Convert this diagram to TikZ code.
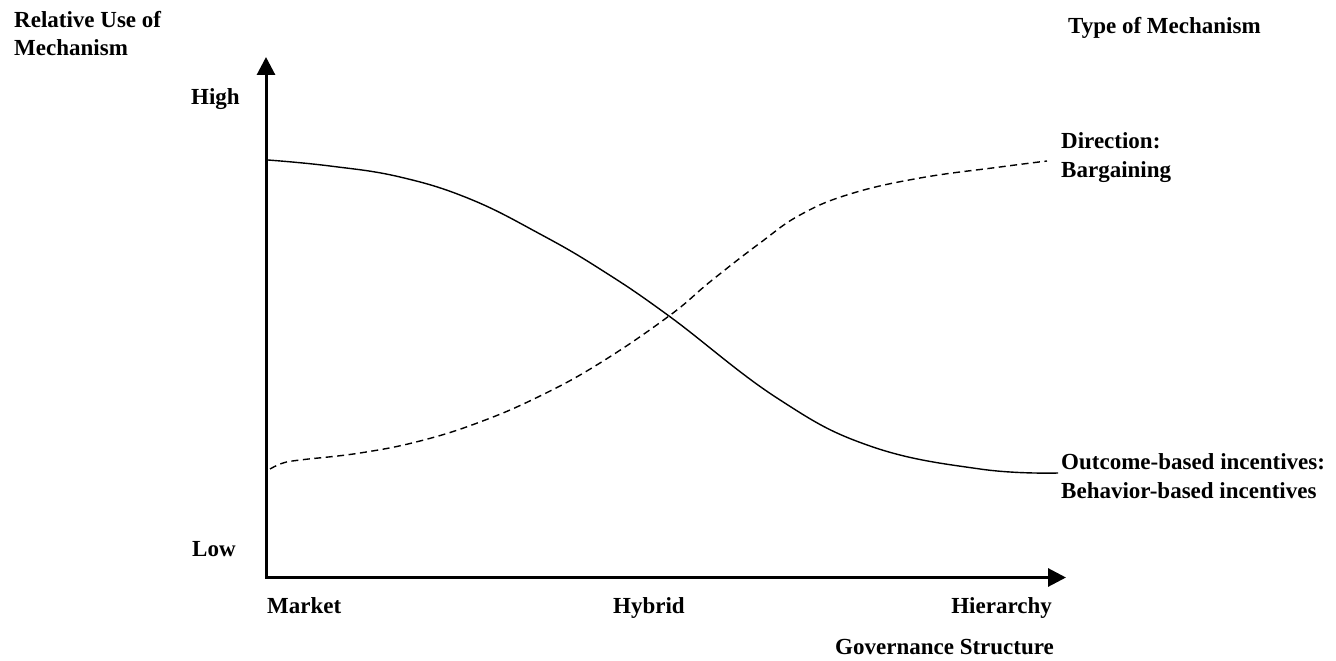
\documentclass[tikz,border=0pt]{standalone}
\usepackage{fontspec}
\setmainfont{Liberation Serif}
\usetikzlibrary{arrows.meta}
\begin{document}
\begin{tikzpicture}[x=1pt,y=-1pt,
  lbl/.style={font=\fontsize{23}{28}\selectfont\bfseries, inner sep=0pt, anchor=base west, align=left},
  axis/.style={line width=3pt, line join=miter, {Triangle[length=18pt,width=18pt]}-{Triangle[length=18pt,width=18pt]}},
  curve/.style={line width=1.4pt},
  dashcurve/.style={line width=1.4pt, dash pattern=on 7pt off 4.5pt}]
\useasboundingbox (0,0) rectangle (1336,661);

% axes
\coordinate (O) at (266,577.5);
\coordinate (ytip) at (266,57);
\coordinate (xtip) at (1066,577.5);
\draw[axis] (ytip) -- (O) -- (xtip);

% axis labels
\node[lbl] (yl1) at (14,28) {Relative Use of};
\node[lbl] (yl2) at (14,56) {Mechanism};
\node[lbl] (hi) at (191,104) {High};
\node[lbl] (lo) at (192,556) {Low};
\node[lbl] (mk) at (267,613) {Market};
\node[lbl] (hy) at (613,613) {Hybrid};
\node[lbl, anchor=base east] (hr) at (1052,613) {Hierarchy};
\node[lbl] (gs) at (835,654) {Governance Structure};
\node[lbl] (tm) at (1068,34) {Type of Mechanism};

% mechanism labels
\node[lbl] (d1) at (1061,148) {Direction:};
\node[lbl] (d2) at (1061,177) {Bargaining};
\node[lbl] (o1) at (1061,469) {Outcome-based incentives:};
\node[lbl] (o2) at (1061,498) {Behavior-based incentives};

% curve ends
\coordinate (s0) at (268,160);
\coordinate (s1) at (1058,473);
\coordinate (d0) at (270,469);
\coordinate (d1e) at (1047,161);

% solid curve: outcome-based incentives
\draw[curve] plot[smooth, tension=0.7] coordinates {
  (s0) (330,166) (400,177) (470,199) (540,234) (600,269)
  (669,316) (777,398) (870,446) (980,469) (s1)};

% dashed curve: direction / bargaining
\draw[dashcurve] plot[smooth, tension=0.7] coordinates {
  (d0) (283,463) (300,460) (360,453) (420,441) (480,422) (540,396)
  (600,363) (669,316) (711,281) (760,243) (800,215) (850,194)
  (920,178) (1000,167) (d1e)};
\end{tikzpicture}
\end{document}
